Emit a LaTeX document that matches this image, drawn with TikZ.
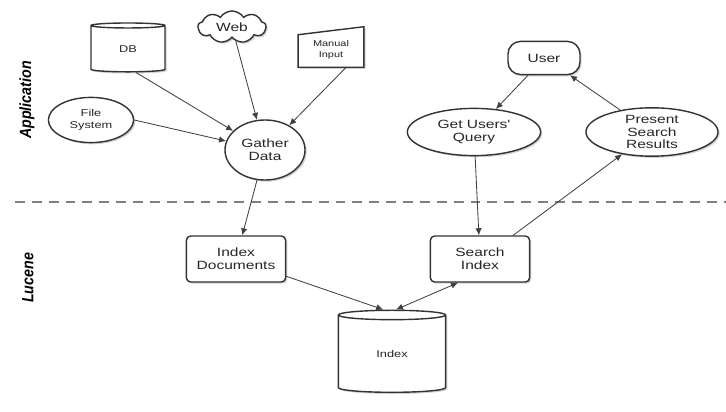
\documentclass[tikz,border=0pt]{standalone}
\usepackage{fontspec}
\setmainfont{Liberation Sans}
\newfontfamily\boxfont{Liberation Sans}[FakeStretch=1.3]
\newfontfamily\sidefont{Liberation Sans}[FakeStretch=0.88]
\usepackage{tikz}
\usetikzlibrary{shapes.geometric, shapes.symbols, arrows.meta, shadows}

\begin{document}
\begin{tikzpicture}[x=0.025cm, y=-0.025cm,
  shd/.style={drop shadow={shadow xshift=1.2pt, shadow yshift=-1.2pt, opacity=0.35}},
  dbcyl/.style={cylinder, shape border rotate=90, draw=black!80, line width=1pt,
              fill=white, shd, align=center, inner sep=0pt},
  ovl/.style={ellipse, draw=black!80, line width=1pt, fill=white, shd,
              align=center, inner sep=0pt},
  rbox/.style={rectangle, rounded corners=3pt, draw=black!80, line width=1pt,
              fill=white, shd, align=center, minimum width=2.48cm, minimum height=1.15cm},
  big/.style={font=\boxfont\fontsize{8.5}{9.2}\selectfont, text=black!85},
  small/.style={font=\boxfont\fontsize{7}{8}\selectfont, text=black!85},
  side/.style={rotate=90, font=\sidefont\bfseries\itshape\fontsize{11.5}{12}\selectfont},
  arr/.style={-{Latex[length=5pt, width=4.5pt]}, draw=black!75, line width=0.6pt},
  sepline/.style={draw=black!50, line width=0.8pt, dash pattern=on 7pt off 5pt}
]
\useasboundingbox (0,0) rectangle (726,412);

% application side
\node[dbcyl, small, aspect=0.28, minimum width=1.85cm, minimum height=1.22cm] (db) at (128,49) {DB};
\node[cloud, cloud puffs=9, cloud puff arc=115, aspect=2.1, draw=black!80, line width=1pt,
      fill=white, shd, big, inner sep=0pt, minimum width=1.7cm, minimum height=0.8cm] (web) at (232,27) {Web};
\node[minimum width=1.63cm, minimum height=1.0cm] (manual) at (331,47) {};
\filldraw[draw=black!80, line width=1pt, fill=white, shd]
  ([yshift=-0.2cm]manual.north west) -- (manual.north east) -- (manual.south east) -- (manual.south west) -- cycle;
\node[small, align=center, font=\boxfont\fontsize{6}{7.5}\selectfont] (mantxt) at (331,50) {Manual\\Input};
\node[ovl, small, minimum width=2.13cm, minimum height=1.13cm] (fs) at (91,120) {File\\System};
\node[ovl, big, minimum width=2.0cm, minimum height=1.5cm] (gather) at (265,150) {Gather\\Data};

\node[rbox, big, rounded corners=9pt, minimum width=1.8cm, minimum height=0.83cm] (user) at (544,58) {User};
\node[ovl, big, minimum width=3.33cm, minimum height=1.18cm] (query) at (474,132) {Get Users'\\Query};
\node[ovl, big, minimum width=3.3cm, minimum height=1.18cm] (present) at (652,132) {Present\\Search\\Results};

% lucene side
\node[rbox, big] (idxdoc) at (236,259) {Index\\Documents};
\node[rbox, big] (sidx) at (480,259) {Search\\Index};
\node[dbcyl, small, aspect=0.3, minimum width=2.68cm, minimum height=2.05cm] (index) at (392,354) {Index};

\coordinate (sepL) at (15,202);
\coordinate (sepR) at (726,202);
\draw[sepline] (sepL) -- (sepR);

\node[side] (app) at (27,100) {Application};
\node[side] (luc) at (28,278) {Lucene};

\draw[arr] ([xshift=0.2cm]db.south) -- (gather);
\draw[arr] (web) -- (gather);
\draw[arr] ([xshift=0.38cm]manual.south) -- (gather);
\draw[arr] (fs.east) -- (gather);
\draw[arr] (gather) -- (idxdoc);
\draw[arr] (idxdoc) -- ([xshift=-0.22cm]index.north);
\draw[arr, {Latex[length=5pt, width=4.5pt]}-{Latex[length=5pt, width=4.5pt]}] ([xshift=-0.55cm]sidx.south) -- ([xshift=0.1cm]index.north);
\draw[arr] (query) -- (sidx);
\draw[arr] ([xshift=0.83cm]sidx.north) -- (present);
\draw[arr] ([xshift=-0.4cm]user.south) -- (query);
\draw[arr] (present) -- ([xshift=0.65cm]user.south);
\end{tikzpicture}
\end{document}
